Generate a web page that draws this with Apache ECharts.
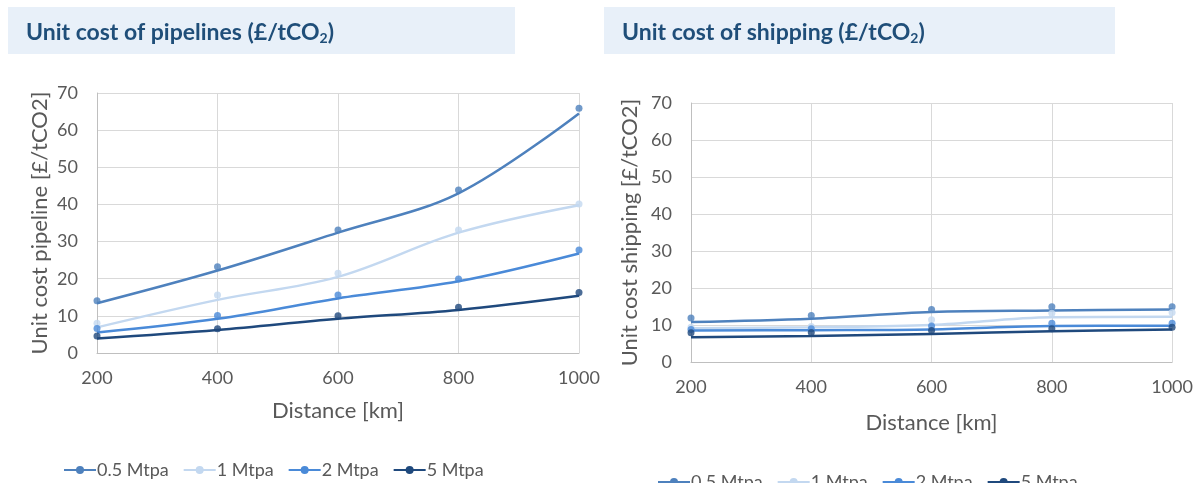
<!DOCTYPE html>
<html>
<head>
<meta charset="utf-8">
<script src="https://cdn.jsdelivr.net/npm/echarts@6/dist/echarts.min.js"></script>
<style>
  html, body { margin: 0; padding: 0; background: #fff; }
  #chart { width: 1196px; height: 483px; }
</style>
</head>
<body>
<div id="chart"></div>
<script>
// distances (km)
var distances = [200, 400, 600, 800, 1000];
var seriesNames = ['0.5 Mtpa', '1 Mtpa', '2 Mtpa', '5 Mtpa'];
var colors = ['#4E81BD', '#C3D8F0', '#4A8AD8', '#1F497D'];

// pipeline: data points (markers) and the smooth trend line
var pipeMarks05 = [14.1, 23.2, 33.1, 43.9, 65.9];
var pipeMarks1 = [8.0, 15.6, 21.5, 33.1, 40.1];
var pipeMarks2 = [6.6, 10.1, 15.6, 19.9, 27.7];
var pipeMarks5 = [4.6, 6.5, 10.0, 12.3, 16.3];
var pipeLine05 = [13.4, 22.2, 32.4, 43.0, 64.5];
var pipeLine1 = [6.9, 14.3, 20.5, 32.4, 39.8];
var pipeLine2 = [5.5, 9.2, 14.7, 19.3, 26.8];
var pipeLine5 = [3.9, 6.2, 9.2, 11.6, 15.4];

// shipping
var shipMarks05 = [11.9, 12.6, 14.2, 14.9, 14.9];
var shipMarks1 = [9.4, 9.6, 11.4, 13.2, 13.4];
var shipMarks2 = [8.8, 9.0, 9.7, 10.5, 10.5];
var shipMarks5 = [7.9, 8.0, 8.5, 9.0, 9.4];
var shipLine05 = [10.8, 11.7, 13.5, 13.9, 14.2];
var shipLine1 = [9.1, 9.4, 10.0, 12.1, 12.2];
var shipLine2 = [8.5, 8.6, 8.8, 9.7, 9.8];
var shipLine5 = [6.7, 7.0, 7.6, 8.3, 8.8];

var yTicks = [0, 10, 20, 30, 40, 50, 60, 70];

var font = 'Lato, "Open Sans", sans-serif';
var gray = '#595959';

function pairs(ys) {
    return distances.map(function (d, i) { return [d, ys[i]]; });
}

function makeSeries(idx, lines, marks) {
    var out = [];
    lines.forEach(function (ys, i) {
        out.push({
            name: seriesNames[i],
            type: 'line',
            xAxisIndex: idx, yAxisIndex: idx,
            smooth: 0.35,
            symbol: 'circle',
            symbolSize: 6,
            showSymbol: false,
            data: pairs(ys),
            lineStyle: { width: 2.5, color: colors[i] },
            itemStyle: { color: colors[i] },
            z: 2
        });
    });
    marks.forEach(function (ys, i) {
        out.push({
            name: seriesNames[i] + ' pts' + idx,
            type: 'scatter',
            xAxisIndex: idx, yAxisIndex: idx,
            symbolSize: 7,
            data: pairs(ys),
            itemStyle: { color: colors[i] },
            z: 3
        });
    });
    return out;
}

function xAxisOpt(idx, gap) {
    return {
        type: 'value', gridIndex: idx, min: 200, max: 1000, interval: 200,
        name: 'Distance [km]', nameLocation: 'middle', nameGap: gap,
        nameTextStyle: { fontFamily: font, fontSize: 22, color: gray },
        axisLine: { lineStyle: { color: '#BFBFBF' } },
        axisTick: { show: false },
        axisLabel: { fontFamily: font, fontSize: 18, color: gray, margin: 16,
            formatter: function (v) { return String(v); } },
        splitLine: { lineStyle: { color: '#D9D9D9' } }
    };
}

function yAxisOpt(idx, name, gap) {
    return {
        type: 'value', gridIndex: idx, min: yTicks[0], max: yTicks[yTicks.length - 1], interval: 10,
        name: name, nameLocation: 'middle', nameGap: gap,
        nameTextStyle: { fontFamily: font, fontSize: 22, color: gray },
        axisLine: { show: true, lineStyle: { color: '#BFBFBF' } },
        axisTick: { show: false },
        axisLabel: { fontFamily: font, fontSize: 18, color: gray, margin: 19 },
        splitLine: { lineStyle: { color: '#D9D9D9' } }
    };
}

function titleOpt(left, text) {
    return {
        left: left, top: 15,
        text: '{t|' + text + '}{s|2}{t|)}',
        textStyle: {
            rich: {
                t: { fontFamily: font, fontWeight: 'bold', fontSize: 23, color: '#1F4E79' },
                s: { fontFamily: font, fontWeight: 'bold', fontSize: 14, color: '#1F4E79', padding: [11, 0, 0, 0] }
            }
        }
    };
}

function legendOpt(idx, left, top) {
    return {
        left: left, top: top, itemWidth: 32, itemHeight: 10, itemGap: 14,
        data: seriesNames.map(function (n) { return { name: n }; }),
        textStyle: { fontFamily: font, fontSize: 18, color: gray, padding: [0, 0, 0, -4] }
    };
}

var chart = echarts.init(document.getElementById('chart'));
var option = {
    backgroundColor: '#fff',
    animation: false,
    graphic: [
        { type: 'rect', shape: { x: 8, y: 7, width: 507, height: 47 }, style: { fill: '#E8F0F9' }, z: -1 },
        { type: 'rect', shape: { x: 604, y: 7, width: 511, height: 47 }, style: { fill: '#E8F0F9' }, z: -1 }
    ],
    title: [
        titleOpt(21, 'Unit cost of pipelines (£/tCO'),
        titleOpt(617, 'Unit cost of shipping (£/tCO')
    ],
    legend: [legendOpt(0, 58, 456), legendOpt(1, 652, 468)],
    grid: [
        { left: 97, top: 93, width: 482, height: 260 },
        { left: 691, top: 103, width: 483, height: 259 }
    ],
    xAxis: [xAxisOpt(0, 47), xAxisOpt(1, 50)],
    yAxis: [yAxisOpt(0, 'Unit cost pipeline [£/tCO2]', 46), yAxisOpt(1, 'Unit cost shipping [£/tCO2]', 50)],
    series: makeSeries(0, [pipeLine05, pipeLine1, pipeLine2, pipeLine5], [pipeMarks05, pipeMarks1, pipeMarks2, pipeMarks5])
        .concat(makeSeries(1, [shipLine05, shipLine1, shipLine2, shipLine5], [shipMarks05, shipMarks1, shipMarks2, shipMarks5]))
};
chart.setOption(option);
</script>
</body>
</html>
